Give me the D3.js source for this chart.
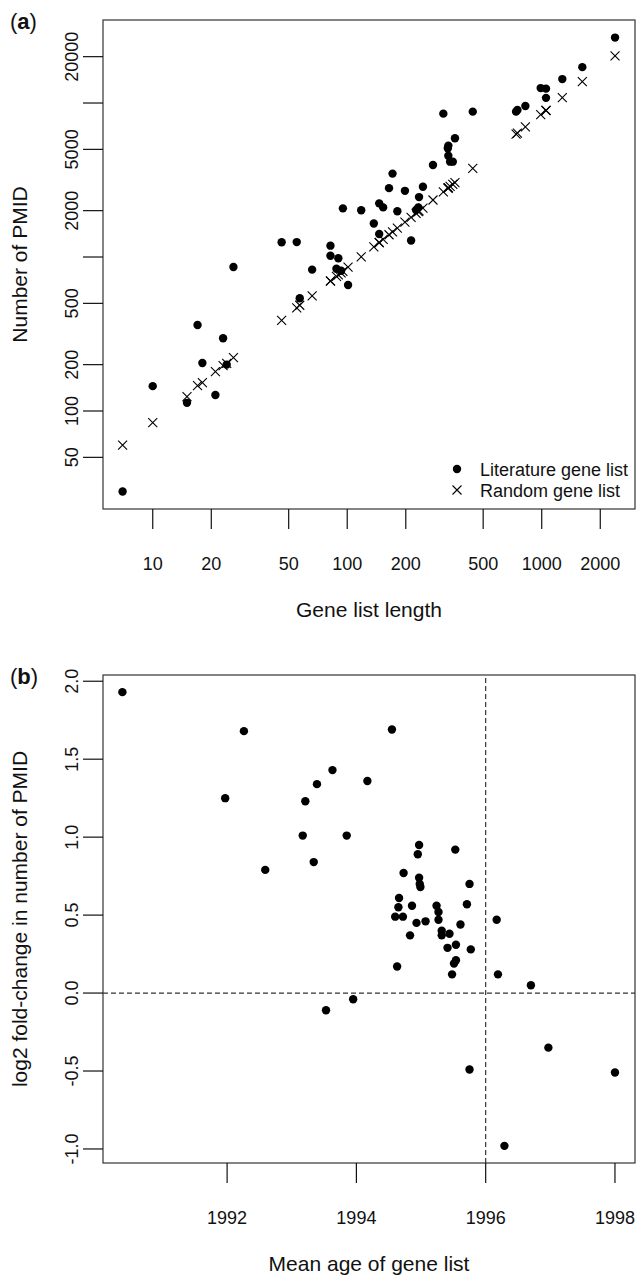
<!DOCTYPE html>
<html>
<head>
<meta charset="utf-8">
<script src="https://cdn.jsdelivr.net/npm/d3@7"></script>
<style>
  body { margin: 0; background: #fff; }
  svg { display: block; font-family: "Liberation Sans", Arial, sans-serif; }
</style>
</head>
<body>
<svg width="638" height="1276"></svg>
<script>
// panel (a): gene list length vs number of PMID
const geneListLength = [7, 10, 15, 17, 18, 21, 23, 24, 26, 46, 55, 57, 66, 82, 82, 88, 90, 93, 95, 101,
  118, 137, 146, 146, 153, 164, 171, 181, 198, 213, 226, 232, 234, 245, 276, 312, 329, 331, 331, 338,
  349, 358, 442, 738, 750, 824, 988, 1052, 1052, 1276, 1617, 2382];
const literaturePMID = [30, 145, 113, 362, 205, 127, 297, 200, 862, 1247, 1250, 540, 828, 1185, 1020, 840, 981, 815, 2070, 658,
  2010, 1650, 2230, 1410, 2100, 2800, 3480, 1980, 2690, 1280, 2020, 2100, 2450, 2860, 3960, 8530, 5080, 5290, 4550, 4160,
  4160, 5900, 8790, 8790, 9020, 9570, 12500, 12400, 10800, 14300, 17100, 26600];
const randomPMID = [60, 84, 124, 146, 153, 180, 197, 204, 222, 388, 468, 486, 560, 697, 700, 748, 765, 790, 808, 860,
  1003, 1165, 1240, 1242, 1300, 1395, 1455, 1540, 1683, 1810, 1920, 1972, 1990, 2080, 2345, 2650, 2797, 2815, 2813, 2873,
  2966, 3043, 3757, 6273, 6375, 7000, 8400, 8940, 8945, 10850, 13750, 20250];
const lengthTicks = [10, 20, 50, 100, 200, 500, 1000, 2000];
const pmidTicks = [50, 100, 200, 500, 1000, 2000, 5000, 10000, 20000];
const pmidTickLabels = ['50', '100', '200', '500', '', '2000', '5000', '', '20000'];
const legendLabels = ['Literature gene list', 'Random gene list'];

// panel (b): mean age vs log2 fold-change
const meanAge = [1990.38, 1991.97, 1992.26, 1992.59, 1993.17, 1993.21, 1993.34, 1993.39, 1993.53, 1993.63,
  1993.85, 1993.95, 1994.17, 1994.55, 1994.60, 1994.63, 1994.65, 1994.66, 1994.72, 1994.73,
  1994.83, 1994.86, 1994.93, 1994.95, 1994.97, 1994.97, 1994.98, 1994.99, 1995.07, 1995.24,
  1995.27, 1995.27, 1995.32, 1995.32, 1995.41, 1995.44, 1995.48, 1995.51, 1995.53, 1995.54,
  1995.54, 1995.61, 1995.71, 1995.75, 1995.75, 1995.77, 1996.17, 1996.19, 1996.29, 1996.70,
  1996.97, 1998.00];
const log2FC = [1.93, 1.25, 1.68, 0.79, 1.01, 1.23, 0.84, 1.34, -0.11, 1.43,
  1.01, -0.04, 1.36, 1.69, 0.49, 0.17, 0.55, 0.61, 0.49, 0.77,
  0.37, 0.56, 0.45, 0.89, 0.95, 0.74, 0.70, 0.68, 0.46, 0.56,
  0.52, 0.47, 0.40, 0.37, 0.29, 0.38, 0.12, 0.19, 0.92, 0.31,
  0.21, 0.44, 0.57, 0.70, -0.49, 0.28, 0.47, 0.12, -0.98, 0.05,
  -0.35, -0.51];
const yearTicks = [1992, 1994, 1996, 1998];
const fcTicks = [-1, -0.5, 0, 0.5, 1, 1.5, 2];
const fcTickLabels = ['-1.0', '-0.5', '0.0', '0.5', '1.0', '1.5', '2.0'];

const TICK_LEN = 20;
const TICK_FONT = 18;
const TITLE_FONT = 21;
const DOT_R = 4.2;

const svg = d3.select('svg');

const crossPath = 'M-4.5,-4.5L4.5,4.5M-4.5,4.5L4.5,-4.5';

function drawFrame(x, y, xTicks, xLabels, yTicks, yLabels, xTitle, yTitle, tag) {
  const [x0, x1] = x.range();
  const [yb, yt] = y.range();
  const g = svg.append('g');

  g.append('rect')
    .attr('x', x0).attr('y', yt)
    .attr('width', x1 - x0).attr('height', yb - yt)
    .attr('fill', 'none').attr('stroke', '#333').attr('stroke-width', 1.2);

  // x ticks
  g.selectAll('.xtick').data(xTicks).enter()
    .append('line')
    .attr('x1', d => x(d)).attr('x2', d => x(d))
    .attr('y1', yb).attr('y2', yb + TICK_LEN)
    .attr('stroke', '#111').attr('stroke-width', 1.2);
  g.selectAll('.xlab').data(xTicks).enter()
    .append('text')
    .attr('x', d => x(d)).attr('y', yb + 61)
    .attr('text-anchor', 'middle')
    .attr('font-size', TICK_FONT)
    .attr('fill', '#111')
    .text((d, i) => xLabels[i]);

  // y ticks, labels turned like R's las=0
  g.selectAll('.ytick').data(yTicks).enter()
    .append('line')
    .attr('x1', x0 - TICK_LEN).attr('x2', x0)
    .attr('y1', d => y(d)).attr('y2', d => y(d))
    .attr('stroke', '#111').attr('stroke-width', 1.2);
  g.selectAll('.ylab').data(yTicks).enter()
    .append('text')
    .attr('transform', d => 'translate(78,' + y(d) + ') rotate(-90)')
    .attr('text-anchor', 'middle')
    .attr('font-size', TICK_FONT)
    .attr('fill', '#111')
    .text((d, i) => yLabels[i]);

  g.append('text')
    .attr('x', (x0 + x1) / 2).attr('y', yb + 108)
    .attr('text-anchor', 'middle')
    .attr('font-size', TITLE_FONT)
    .attr('fill', '#111')
    .text(xTitle);
  g.append('text')
    .attr('transform', 'translate(27,' + (yb + yt) / 2 + ') rotate(-90)')
    .attr('text-anchor', 'middle')
    .attr('font-size', TITLE_FONT)
    .attr('fill', '#111')
    .text(yTitle);

  const lab = g.append('text')
    .attr('x', 10).attr('y', yt + 9)
    .attr('font-size', 22)
    .attr('fill', '#111');
  lab.append('tspan').text('(');
  lab.append('tspan').attr('font-weight', 'bold').text(tag);
  lab.append('tspan').text(')');
}

// ---- panel (a)
const xA = d3.scaleLog().domain([5.55, 3017]).range([103, 635]);
const yA = d3.scaleLog().domain([23.1, 34600]).range([509, 20]);

drawFrame(xA, yA, lengthTicks, lengthTicks.map(String), pmidTicks, pmidTickLabels,
  'Gene list length', 'Number of PMID', 'a');

svg.append('g').selectAll('circle')
  .data(geneListLength)
  .enter().append('circle')
  .attr('cx', d => xA(d))
  .attr('cy', (d, i) => yA(literaturePMID[i]))
  .attr('r', DOT_R)
  .attr('fill', '#000');

svg.append('g').selectAll('path')
  .data(geneListLength)
  .enter().append('path')
  .attr('d', crossPath)
  .attr('transform', (d, i) => 'translate(' + xA(d) + ',' + yA(randomPMID[i]) + ')')
  .attr('stroke', '#000')
  .attr('stroke-width', 1.1)
  .attr('fill', 'none');

// legend
const leg = svg.append('g').attr('transform', 'translate(457,469)');
leg.append('circle').attr('cx', 0).attr('cy', 0).attr('r', DOT_R).attr('fill', '#000');
leg.append('path').attr('d', crossPath).attr('transform', 'translate(0,21)')
  .attr('stroke', '#000').attr('stroke-width', 1.1);
leg.selectAll('text').data(legendLabels).enter()
  .append('text')
  .attr('x', 23).attr('y', (d, i) => 6.5 + i * 21)
  .attr('font-size', TICK_FONT)
  .attr('fill', '#111')
  .text(d => d);

// ---- panel (b)
const xB = d3.scaleLinear().domain([1990.08, 1998.31]).range([103, 635]);
const yB = d3.scaleLinear().domain([-1.09, 2.04]).range([1163, 675]);

drawFrame(xB, yB, yearTicks, yearTicks.map(String), fcTicks, fcTickLabels,
  'Mean age of gene list', 'log2 fold-change in number of PMID', 'b');

// reference lines
svg.append('line')
  .attr('x1', xB.range()[0]).attr('x2', xB.range()[1])
  .attr('y1', yB(0)).attr('y2', yB(0))
  .attr('stroke', '#333').attr('stroke-width', 1.2).attr('stroke-dasharray', '5,3');
svg.append('line')
  .attr('x1', xB(1996)).attr('x2', xB(1996))
  .attr('y1', yB.range()[0]).attr('y2', yB.range()[1])
  .attr('stroke', '#333').attr('stroke-width', 1.2).attr('stroke-dasharray', '5,3');

svg.append('g').selectAll('circle')
  .data(meanAge)
  .enter().append('circle')
  .attr('cx', d => xB(d))
  .attr('cy', (d, i) => yB(log2FC[i]))
  .attr('r', DOT_R)
  .attr('fill', '#000');
</script>
</body>
</html>
